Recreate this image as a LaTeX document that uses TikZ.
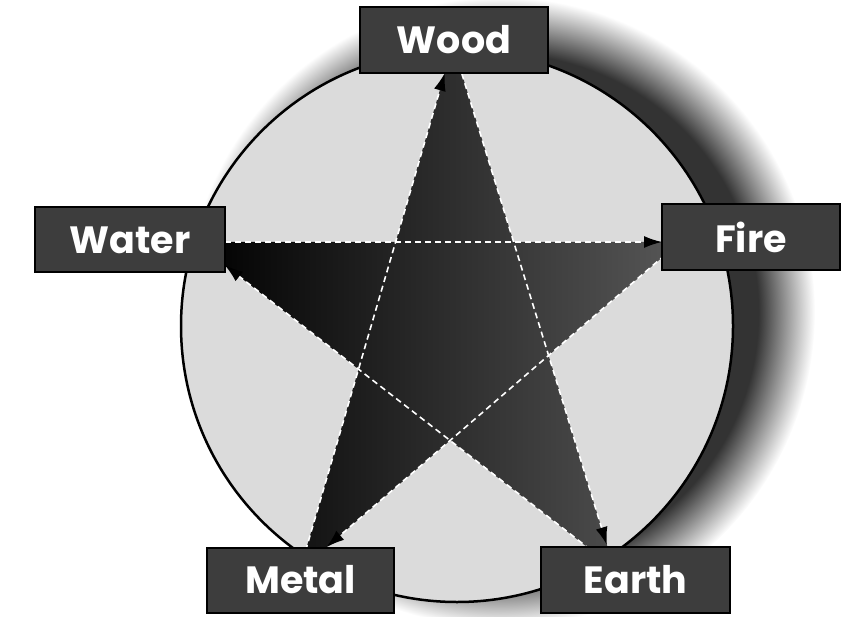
\documentclass[tikz,border=0pt]{standalone}
\usepackage{fontspec}
\newfontfamily\lblfont{Poppins}
\usetikzlibrary{arrows.meta}
\pgfdeclareradialshading{shadowshade}{\pgfpoint{0bp}{0bp}}{color(0bp)=(black!80); color(20.5bp)=(black!80); color(25bp)=(white); color(50bp)=(white)}
\begin{document}
\begin{tikzpicture}[x=1pt,y=-1pt,
  elembox/.style={draw=black, line width=2pt, fill=black!76, text=white,
    font=\lblfont\bfseries\fontsize{38}{40}\selectfont, inner sep=0pt},
  cycarrow/.style={draw=white, line width=1.6pt, dash pattern=on 6pt off 4pt,
    -{Latex[length=18pt,width=12pt,color=black]}},
  ring/.style={draw=black, line width=2.5pt, fill=black!14}]
\useasboundingbox (0,0) rectangle (850,617);
% shadow
\shade[shading=shadowshade] (500,312) circle (315);
% circle
\path[ring] (457,326) circle (276);
% star tips
\coordinate (wood) at (453,45);
\coordinate (water) at (195,242);
\coordinate (fire) at (680,242);
\coordinate (metal) at (300,570);
\coordinate (earth) at (614,568);
% inner vertices
\coordinate (iTL) at (intersection of wood--metal and water--fire);
\coordinate (iTR) at (intersection of wood--earth and water--fire);
\coordinate (iR) at (intersection of wood--earth and fire--metal);
\coordinate (iB) at (intersection of fire--metal and water--earth);
\coordinate (iL) at (intersection of water--earth and wood--metal);
\shade[left color=black, middle color=black!96, right color=black!66]
  (wood) -- (iTR) -- (fire) -- (iR) -- (earth) -- (iB) -- (metal) -- (iL) -- (water) -- (iTL) -- cycle;
% cycle arrows
\draw[cycarrow, shorten >=29pt] (metal) -- (wood);
\draw[cycarrow, shorten >=18pt] (water) -- (fire);
\draw[cycarrow, shorten >=24pt] (wood) -- (earth);
\draw[cycarrow, shorten >=35pt] (fire) -- (metal);
\draw[cycarrow, shorten >=38pt] (earth) -- (water);
% labels
\node[elembox, minimum width=188pt, minimum height=66pt] (woodbox) at (454,40) {Wood};
\node[elembox, minimum width=190pt, minimum height=65pt] (waterbox) at (130,240) {Water};
\node[elembox, minimum width=178pt, minimum height=66pt] (firebox) at (751,237) {Fire};
\node[elembox, minimum width=187pt, minimum height=65pt] (metalbox) at (300.5,580) {Metal};
\node[elembox, minimum width=189pt, minimum height=66pt] (earthbox) at (635.5,579.5) {Earth};
\end{tikzpicture}
\end{document}
